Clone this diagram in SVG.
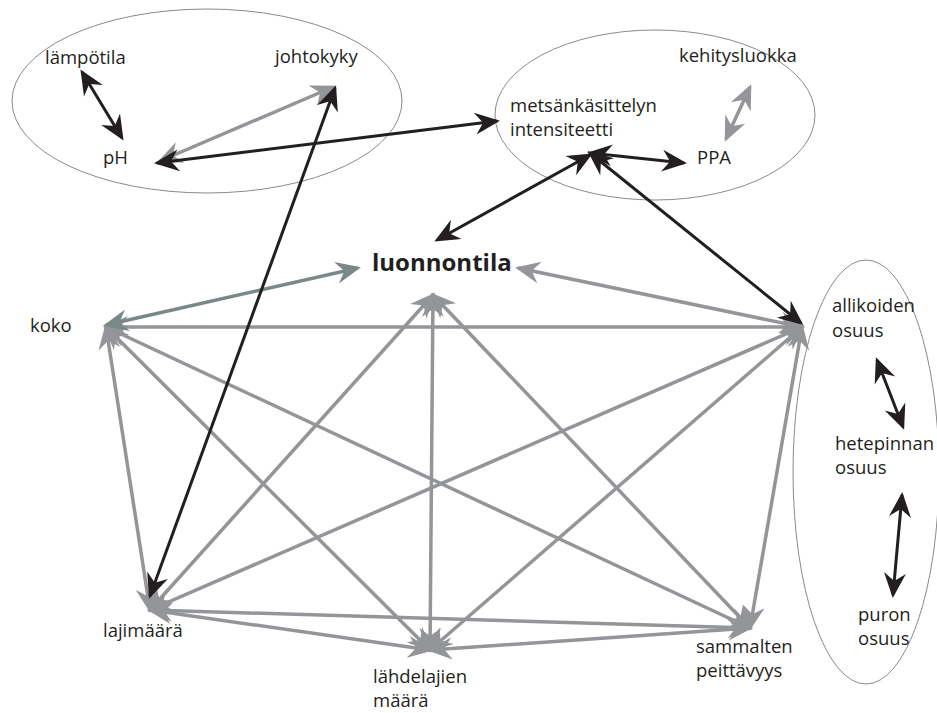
<svg xmlns="http://www.w3.org/2000/svg" width="937" height="713" viewBox="0 0 937 713">
<style>
text{font-family:"Open Sans","Liberation Sans",sans-serif;font-size:18.5px;fill:#231f20}
.b{font-weight:bold;font-size:24px}
.grp{fill:none;stroke:#8a8a8a;stroke-width:1}
.k{stroke:#231f20;stroke-width:3;fill:none;marker-start:url(#ak);marker-end:url(#ak)}
.g{stroke:#939598;stroke-width:3.5;fill:none;marker-start:url(#ag);marker-end:url(#ag)}
.t{stroke:#7b8888;stroke-width:3.5;fill:none;marker-start:url(#at);marker-end:url(#at)}
</style>
<defs>
<marker id="ak" markerUnits="userSpaceOnUse" markerWidth="30" markerHeight="30" viewBox="-25 -12 30 24" refX="0" refY="0" orient="auto-start-reverse" overflow="visible"><path d="M3,0 L-22,-11 L-14,0 L-22,11 Z" fill="#231f20"/></marker>
<marker id="ag" markerUnits="userSpaceOnUse" markerWidth="30" markerHeight="30" viewBox="-25 -12 30 24" refX="0" refY="0" orient="auto-start-reverse" overflow="visible"><path d="M3,0 L-22,-11 L-14,0 L-22,11 Z" fill="#939598"/></marker>
<marker id="at" markerUnits="userSpaceOnUse" markerWidth="30" markerHeight="30" viewBox="-25 -12 30 24" refX="0" refY="0" orient="auto-start-reverse" overflow="visible"><path d="M3,0 L-22,-11 L-14,0 L-22,11 Z" fill="#7b8888"/></marker>
</defs>
<g id="groups">
<ellipse class="grp" cx="207" cy="101" rx="195" ry="92"/>
<ellipse class="grp" cx="655" cy="115" rx="160" ry="85"/>
<ellipse class="grp" cx="866" cy="472" rx="73" ry="212"/>
</g>
<g id="connectors">
<line class="g" x1="106" y1="327" x2="802" y2="327"/>
<line class="g" x1="106" y1="327" x2="150" y2="610"/>
<line class="g" x1="106" y1="327" x2="430" y2="650"/>
<line class="g" x1="106" y1="327" x2="750" y2="628"/>
<line class="g" x1="433" y1="295" x2="150" y2="610"/>
<line class="g" x1="433" y1="295" x2="430" y2="650"/>
<line class="g" x1="433" y1="295" x2="750" y2="628"/>
<line class="g" x1="802" y1="327" x2="150" y2="610"/>
<line class="g" x1="802" y1="327" x2="430" y2="650"/>
<line class="g" x1="802" y1="327" x2="750" y2="628"/>
<line class="g" x1="150" y1="610" x2="430" y2="650"/>
<line class="g" x1="150" y1="610" x2="750" y2="628"/>
<line class="g" x1="430" y1="650" x2="750" y2="628"/>
<line class="g" x1="802" y1="327" x2="518" y2="268"/>
<line class="t" x1="106" y1="325" x2="358" y2="268"/>
<line class="g" x1="160" y1="161" x2="333" y2="87"/>
<line class="g" x1="750" y1="87" x2="726" y2="139"/>
<line class="k" x1="82" y1="72" x2="122" y2="138"/>
<line class="k" x1="335" y1="88" x2="150" y2="596"/>
<line class="k" x1="157" y1="163" x2="497" y2="121"/>
<line class="k" x1="590" y1="153" x2="684" y2="163"/>
<line class="k" x1="590" y1="155" x2="437" y2="240"/>
<line class="k" x1="590" y1="153" x2="801" y2="323"/>
<line class="k" x1="877" y1="360" x2="903" y2="427"/>
<line class="k" x1="902" y1="495" x2="893" y2="595"/>
</g>
<g id="lampotila"><text x="45" y="64">lämpötila</text></g>
<g id="johtokyky"><text x="275" y="63">johtokyky</text></g>
<g id="pH"><text x="103" y="164">pH</text></g>
<g id="kehitysluokka"><text x="679" y="62">kehitysluokka</text></g>
<g id="metsankasittely"><text x="510" y="112">metsänkäsittelyn</text><text x="510" y="136">intensiteetti</text></g>
<g id="PPA"><text x="697" y="164">PPA</text></g>
<g id="luonnontila"><text class="b" x="372" y="271">luonnontila</text></g>
<g id="koko"><text x="30" y="332">koko</text></g>
<g id="allikoiden"><text x="832" y="312">allikoiden</text><text x="832" y="337">osuus</text></g>
<g id="hetepinnan"><text x="835" y="450">hetepinnan</text><text x="835" y="474">osuus</text></g>
<g id="puron"><text x="858" y="621">puron</text><text x="858" y="645">osuus</text></g>
<g id="lajimaara"><text x="103" y="637">lajimäärä</text></g>
<g id="lahdelajien"><text x="373" y="683">lähdelajien</text><text x="373" y="707">määrä</text></g>
<g id="sammalten"><text x="696" y="653">sammalten</text><text x="696" y="677">peittävyys</text></g>
</svg>
